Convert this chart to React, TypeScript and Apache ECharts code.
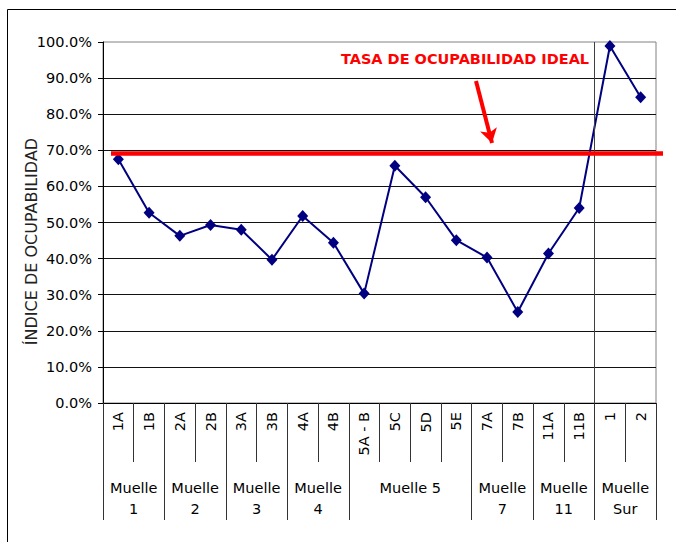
import React, { useEffect, useRef } from "react";
import * as echarts from "echarts";

const categories = ["1A", "1B", "2A", "2B", "3A", "3B", "4A", "4B", "5A - B", "5C", "5D", "5E", "7A", "7B", "11A", "11B", "1", "2"];
const values = [67.5, 52.7, 46.3, 49.3, 48.0, 39.7, 51.8, 44.4, 30.3, 65.7, 57.0, 45.1, 40.3, 25.2, 41.4, 54.0, 98.9, 84.7];
const groupNames = ["Muelle\n1", "Muelle\n2", "Muelle\n3", "Muelle\n4", "Muelle 5", "Muelle\n7", "Muelle\n11", "Muelle\nSur"];
const groupSizes = [2, 2, 2, 2, 4, 2, 2, 2];
const yTicks = [0, 10, 20, 30, 40, 50, 60, 70, 80, 90, 100];
const idealValue = 69.2;
const idealLabel = "TASA DE OCUPABILIDAD IDEAL";
const yName = "ÍNDICE DE OCUPABILIDAD";

const FONT = "DejaVu Sans";

export default function App() {
  const ref = useRef<HTMLDivElement>(null);
  useEffect(() => {
    if (!ref.current) return;
    const chart = echarts.init(ref.current, undefined, { renderer: "svg" });

    const boundaries: number[] = [0];
    const centers: number[] = [];
    const centerName: Record<string, string> = {};
    groupSizes.forEach((s, i) => {
      const start = boundaries[boundaries.length - 1];
      const c = start + s / 2;
      centers.push(c);
      centerName[String(c)] = groupNames[i];
      boundaries.push(start + s);
    });
    const total = boundaries[boundaries.length - 1];
    const lastGroupStart = boundaries[boundaries.length - 2];

    chart.setOption({
      animation: false,
      backgroundColor: "#ffffff",
      textStyle: { fontFamily: FONT },
      grid: {
        left: 103,
        top: 42,
        right: 20,
        bottom: 139,
        show: true,
        borderColor: "#808080",
        borderWidth: 1,
        containLabel: false,
        outerBoundsMode: "none",
      },
      xAxis: [
        {
          type: "category",
          data: categories,
          boundaryGap: true,
          axisLine: { show: true, lineStyle: { color: "#000", width: 1 } },
          axisTick: { show: true, interval: 0, alignWithLabel: false, length: 59, lineStyle: { color: "#333" } },
          axisLabel: { interval: 0, rotate: 90, margin: 9, fontSize: 14.5, color: "#000", fontFamily: FONT },
          splitLine: { show: false },
        },
        {
          type: "value",
          min: 0,
          max: total,
          position: "bottom",
          axisLine: { show: false },
          splitLine: { show: false },
          axisTick: { show: true, customValues: boundaries, length: 117, lineStyle: { color: "#333" } },
          axisLabel: {
            show: true,
            customValues: centers,
            formatter: (v: number) => centerName[String(v)] ?? "",
            margin: 74,
            fontSize: 14.5,
            lineHeight: 21,
            color: "#000",
            fontFamily: FONT,
            align: "center",
          },
        },
      ],
      yAxis: {
        type: "value",
        min: yTicks[0],
        max: yTicks[yTicks.length - 1],
        interval: 10,
        name: yName,
        nameLocation: "middle",
        nameGap: 64,
        nameRotate: 90,
        nameMoveOverlap: false,
        nameTextStyle: { fontSize: 16, color: "#222", fontFamily: FONT, padding: [0, 38, 0, 0] },
        axisLine: { show: true, lineStyle: { color: "#000", width: 1 } },
        axisTick: { show: true, inside: false, length: 5, lineStyle: { color: "#000" } },
        axisLabel: {
          margin: 11,
          fontSize: 14.5,
          color: "#000",
          fontFamily: FONT,
          formatter: (v: number) => v.toFixed(1) + "%",
        },
        splitLine: { show: true, showMaxLine: false, lineStyle: { color: "#111", width: 1 } },
      },
      series: [
        {
          type: "line",
          xAxisIndex: 1,
          yAxisIndex: 0,
          data: [],
          clip: false,
          silent: true,
          z: 1,
          markLine: {
            silent: true,
            symbol: "none",
            label: { show: false },
            animation: false,
            data: [
              {
                xAxis: lastGroupStart,
                lineStyle: { color: "#404040", width: 1, type: "solid" },
              },
              [
                { x: 111, yAxis: idealValue, lineStyle: { color: "#ff0000", width: 4.5, type: "solid" } },
                { x: 663, yAxis: idealValue },
              ],
              [
                { x: 476, y: 81, symbol: "none", lineStyle: { color: "#ff0000", width: 4, type: "solid" } },
                { x: 492, y: 143, symbol: "arrow", symbolSize: [13, 14] },
              ],
            ],
          },
        },
        {
          type: "line",
          xAxisIndex: 0,
          yAxisIndex: 0,
          data: values,
          z: 3,
          color: "#000080",
          lineStyle: { color: "#000080", width: 2 },
          symbol: "diamond",
          symbolSize: [11, 12],
          itemStyle: { color: "#000080" },
          label: { show: false },
        },
      ],
      graphic: [
        {
          type: "rect",
          shape: { x: 7.5, y: 9.5, width: 720, height: 600 },
          style: { fill: "none", stroke: "#000", lineWidth: 1 },
          silent: true,
          z: 0,
        },
        {
          type: "text",
          x: 465,
          y: 59,
          style: {
            text: idealLabel,
            fill: "#ff0000",
            font: "bold 14.5px 'DejaVu Sans'",
            align: "center",
            verticalAlign: "middle",
          },
          z: 10,
        },
      ],
    });
    return () => chart.dispose();
  }, []);

  return (
    <div
      ref={ref}
      style={{ position: "fixed", left: 0, top: 0, width: 676, height: 542, background: "#fff" }}
    />
  );
}
